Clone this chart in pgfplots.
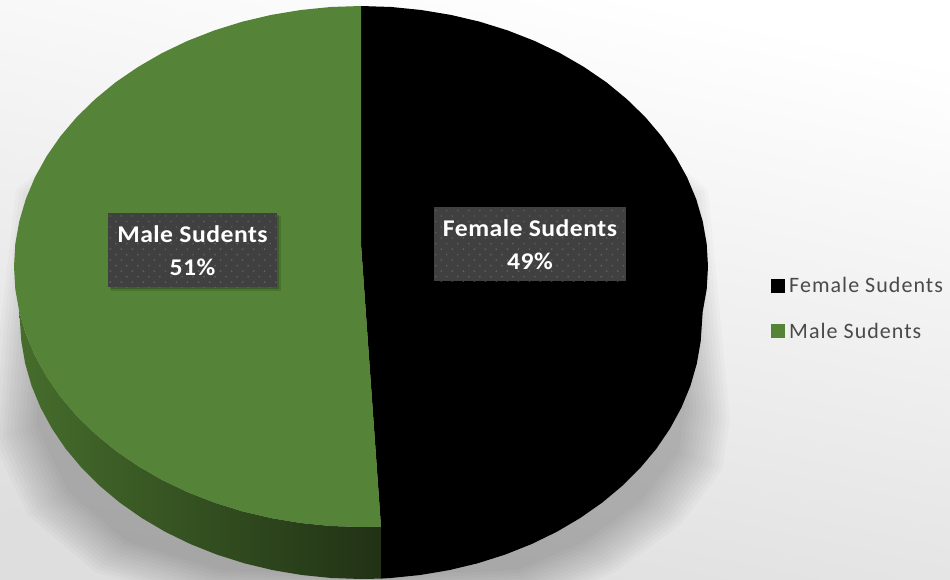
\documentclass[border=0pt]{standalone}
\usepackage{fontspec}
\setmainfont{Carlito}
\newfontfamily\legfont[LetterSpace=4.7]{Carlito}
\newfontfamily\lblfont[LetterSpace=2,FakeStretch=1.07]{Carlito Bold}
\usepackage{pgfplots}
\usepackage{pgfplotstable}
\usetikzlibrary{patterns.meta}
\pgfplotsset{compat=1.18}
\definecolor{pgreen}{HTML}{558337}
\definecolor{wallA}{HTML}{466D2C}
\definecolor{wallB}{HTML}{213215}
\definecolor{boxgray}{HTML}{404040}
\definecolor{dotgray}{HTML}{5F5F5F}
\definecolor{legtext}{HTML}{4A4A4A}

% all outlines in picture pixels, y counted downwards
\pgfplotstableread{
x y
16 190
0 330
-8 440
28 515
95 572
200 604
381 612
540 604
615 572
680 525
722 470
730 420
708 190
600 100
120 100
}\shadowpts

\pgfplotstableread{
x y
361 6
391.3 7
421.2 10
450.8 14.9
479.7 21.7
507.6 30.4
534.5 40.9
560 53.1
584 67
606.4 82.3
626.8 99.1
645.3 117.1
661.5 136.2
675.5 156.4
687.1 177.4
696.2 199.1
702.7 221.3
706.7 243.8
708 266.5
706.7 289.2
702.7 311.7
700.7 341.2
696.8 363.7
690.4 385.9
681.4 407.6
670 428.6
656.3 448.8
640.3 467.9
622.2 485.9
602.1 502.7
580.2 518
556.6 531.9
531.5 544.1
505.1 554.6
477.6 563.3
449.3 570.1
420.2 575
390.7 578
381 578.6
381 526.6
361 244
}\femaleslice

\pgfplotstableread{
x y
361 6
330.7 7
300.8 10
271.2 14.9
242.3 21.7
214.4 30.4
187.5 40.9
162 53.1
138 67
115.6 82.3
95.2 99.1
76.7 117.1
60.5 136.2
46.5 156.4
34.9 177.4
25.8 199.1
19.3 221.3
15.3 243.8
14 266.5
15.3 289.2
19.3 311.7
25.8 333.9
34.9 355.6
46.5 376.6
60.5 396.8
76.7 415.9
95.2 433.9
115.6 450.7
138 466
162 479.9
187.5 492.1
214.4 502.6
242.3 511.3
271.2 518.1
300.8 523
330.7 526
361 527
381 526.6
361 244
}\maleslice

\pgfplotstableread{
x y
19.3 311.7
25.8 333.9
34.9 355.6
46.5 376.6
60.5 396.8
76.7 415.9
95.2 433.9
115.6 450.7
138 466
162 479.9
187.5 492.1
214.4 502.6
242.3 511.3
271.2 518.1
300.8 523
330.7 526
361 527
381 526.6
381 578.6
361 579
331.3 578
301.8 575
272.7 570.1
244.4 563.3
216.9 554.6
190.5 544.1
165.4 531.9
141.8 518
119.9 502.7
99.8 485.9
81.7 467.9
65.7 448.8
52 428.6
40.6 407.6
31.6 385.9
25.2 363.7
21.3 341.2
}\malewall

\tikzset{
  databox/.style={fill=boxgray, inner sep=0pt,
    postaction={pattern={Dots[radius=1pt,distance=7.8pt,angle=45]}, pattern color=dotgray}},
  datatext/.style={text=white, align=center, inner sep=0pt,
    font=\lblfont\fontsize{24}{33}\selectfont}
}

\begin{document}
\begin{tikzpicture}
\useasboundingbox (0,0) rectangle (950pt,580pt);
\begin{axis}[
    scale only axis,
    width=950pt, height=580pt,
    xmin=0, xmax=950, ymin=0, ymax=580,
    y dir=reverse,
    hide axis,
    area legend,
    legend cell align=left,
    legend style={at={(axis cs:771,276)}, anchor=north west, draw=none, fill=none,
      font=\legfont\fontsize{22}{25}\selectfont, text=legtext,
      row sep=27pt, inner sep=0pt, /tikz/column sep=3pt,
      nodes={inner sep=1pt}},
    legend image code/.code={\fill[#1] (0pt,-7pt) rectangle (14pt,7pt);},
  ]
  % background
  \addplot[forget plot, draw=none, top color=white, bottom color=black!13, shading angle=-12]
    coordinates {(0,0) (950,0) (950,580) (0,580)} -- cycle;

  % soft shadow, stacked copies of one outline
  \pgfplotsinvokeforeach{0.88,0.89,0.90,0.91,0.92,0.93,0.94,0.95,0.96,0.97,0.98,0.99,1.00}{
    \addplot[forget plot, draw=none, fill=black, fill opacity=0.019]
      table[x expr={361+(\thisrow{x}-361)*#1}, y expr={320+(\thisrow{y}-320)*#1}] {\shadowpts} -- cycle;
  }

  % side wall of the green slice
  \addplot[forget plot, draw=none, left color=wallA, right color=wallB]
    table[x=x, y=y] {\malewall} -- cycle;

  % slices
  \addplot[draw=none, fill=black] table[x=x, y=y] {\femaleslice} -- cycle;
  \addlegendentry{Female Sudents}
  \addplot[draw=none, fill=pgreen] table[x=x, y=y] {\maleslice} -- cycle;
  \addlegendentry{Male Sudents}

  % data labels
  \fill[black, opacity=0.12] (axis cs:111,216) rectangle (axis cs:281,291);
  \fill[black, opacity=0.18] (axis cs:110,215) rectangle (axis cs:279,289);
  \node[databox, minimum width=169pt, minimum height=74pt] at (axis cs:192.5,250) {};
  \node[datatext] at (axis cs:192.5,251) {Male Sudents\\51\%};
  \node[databox, minimum width=192pt, minimum height=74pt] at (axis cs:530,244) {};
  \node[datatext] at (axis cs:530,245) {Female Sudents\\49\%};
\end{axis}
\end{tikzpicture}
\end{document}
